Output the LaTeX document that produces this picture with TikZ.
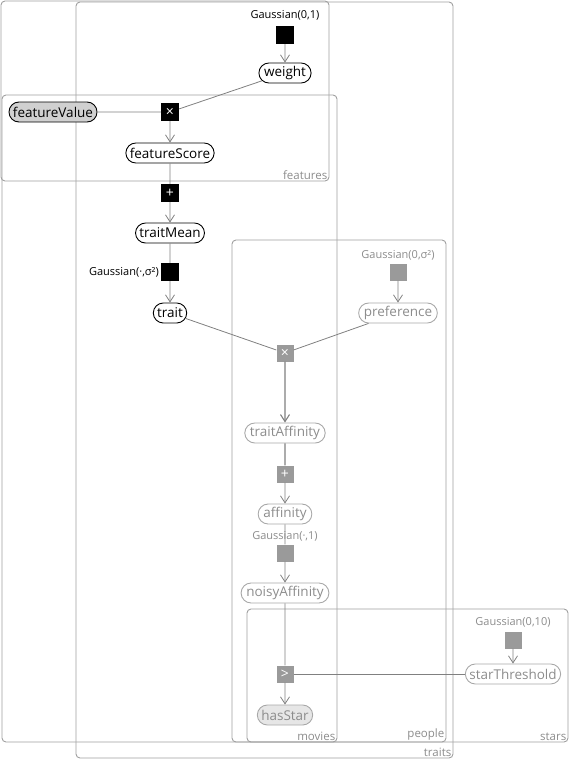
\documentclass[tikz,border=0pt]{standalone}
\usepackage{fontspec}
\setmainfont{Open Sans}
\usetikzlibrary{shapes.misc,arrows.meta}
\definecolor{platec}{HTML}{A0A0A0}
\definecolor{edgec}{HTML}{808080}
\definecolor{gfacc}{HTML}{9A9A9A}
\definecolor{gtext}{HTML}{8C8C8C}
\definecolor{gline}{HTML}{A8A8A8}
\definecolor{obsfill}{HTML}{D0D0D0}
\definecolor{gobsfill}{HTML}{E6E6E6}
\begin{document}
\begin{tikzpicture}[x=1pt,y=-1pt,
  plate/.style={draw=platec, line width=0.9pt, rounded corners=4pt},
  platelabel/.style={text=gtext, font=\fontsize{11.5}{13}\selectfont, inner sep=1.5pt, anchor=south east},
  var/.style={rounded rectangle, draw=black, line width=0.9pt, text=black,
    font=\fontsize{13.5}{15}\selectfont, inner xsep=2.5pt, inner ysep=0pt, minimum height=20pt},
  gvar/.style={var, draw=gline, text=gtext},
  obs/.style={var, fill=obsfill},
  gobs/.style={gvar, fill=gobsfill},
  fac/.style={rectangle, fill=black, minimum size=18pt, inner sep=0pt, text=white,
    font=\fontsize{14}{14}\selectfont},
  gfac/.style={fac, fill=gfacc, minimum size=17pt},
  flabel/.style={font=\fontsize{11}{12}\selectfont, inner sep=1pt, text=black},
  gflabel/.style={flabel, text=gtext},
  edge/.style={draw=edgec, line width=0.8pt},
  arr/.style={edge, -{Straight Barb[length=7pt,width=9pt]}}
]
\useasboundingbox (0,0) rectangle (571,761);

% plates
\draw[plate] (1,1) rectangle (329,181);
\node[platelabel] (lfeatures) at (329,181) {features};
\draw[plate] (2,95) rectangle (337,742);
\node[platelabel] (lmovies) at (337,742) {movies};
\draw[plate] (76,2) rectangle (453,758);
\node[platelabel] (ltraits) at (453,758) {traits};
\draw[plate] (232,240) rectangle (446,742);
\node[platelabel] (lpeople) at (446,742) {people};
\draw[plate] (247,609) rectangle (568,742);
\node[platelabel] (lstars) at (568,742) {stars};

% nodes
\node[flabel] (gw) at (285,15) {Gaussian(0,1)};
\node[fac] (fw) at (285,35) {};
\node[var] (weight) at (285,73) {weight};
\node[obs] (fv) at (53,112) {featureValue};
\node[fac] (m1) at (170,112) {×};
\node[var] (fs) at (170,153) {featureScore};
\node[fac] (p1) at (170,193) {+};
\node[var] (tm) at (170,233) {traitMean};
\node[flabel, anchor=east] (gt) at (160,272) {Gaussian(·,σ²)};
\node[fac] (ft) at (170,272) {};
\node[var] (trait) at (170,313) {trait};

\node[gflabel] (gp) at (398,255) {Gaussian(0,σ²)};
\node[gfac] (fp) at (398,272) {};
\node[gvar] (pref) at (398,313) {preference};
\node[gfac] (m2) at (285,353) {×};
\node[gvar] (ta) at (285,433) {traitAffinity};
\node[gfac] (p2) at (285,474) {+};
\node[gvar] (aff) at (285,514) {affinity};
\node[gflabel] (ga) at (285,536) {Gaussian(·,1)};
\node[gfac] (fa) at (285,553) {};
\node[gvar] (na) at (285,593) {noisyAffinity};
\node[gflabel] (gs) at (513,622) {Gaussian(0,10)};
\node[gfac] (fs10) at (513,640) {};
\node[gvar] (st) at (513,674) {starThreshold};
\node[gfac] (gt2) at (285,674) {>};
\node[gobs] (hs) at (285,715) {hasStar};

% edges
\draw[arr] (fw) -- (weight);
\draw[edge] (weight) -- (m1);
\draw[edge] (fv) -- (m1);
\draw[arr] (m1) -- (fs);
\draw[edge] (fs) -- (p1);
\draw[arr] (p1) -- (tm);
\draw[edge] (tm) -- (ft);
\draw[arr] (ft) -- (trait);
\draw[edge] (trait) -- (m2);
\draw[edge] (pref) -- (m2);
\draw[arr] (fp) -- (pref);
\draw[arr, line width=1.1pt] (m2) -- (ta);
\draw[edge, line width=1.1pt] (ta) -- (p2);
\draw[arr] (p2) -- (aff);
\draw[edge] (aff) -- (fa);
\draw[arr] (fa) -- (na);
\draw[edge] (na) -- (gt2);
\draw[edge] (st) -- (gt2);
\draw[arr] (gt2) -- (hs);
\draw[arr] (fs10) -- (st);
\end{tikzpicture}
\end{document}
